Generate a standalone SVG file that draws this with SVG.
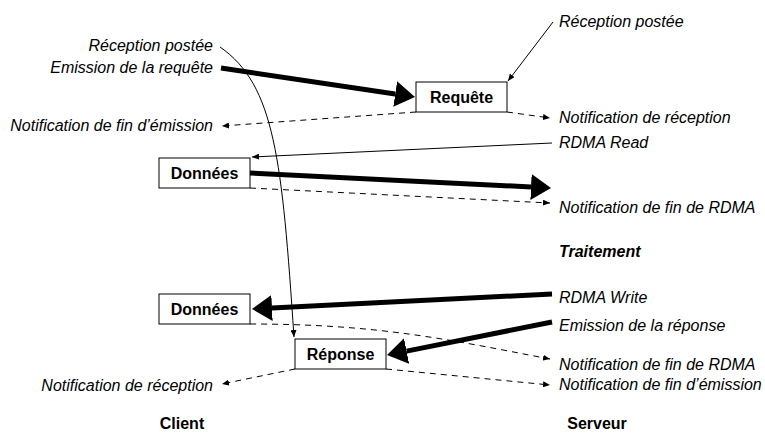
<svg xmlns="http://www.w3.org/2000/svg" width="765" height="433" viewBox="0 0 765 433">
<style>
.box{fill:#fff;stroke:#000;stroke-width:1}
.bt{font-family:"Liberation Sans",Arial,sans-serif;font-size:16px;font-weight:bold;text-anchor:middle;fill:#000}
.it{font-family:"Liberation Sans",Arial,sans-serif;font-size:16px;font-style:italic;fill:#000}
.l{text-anchor:end}
.ti{font-weight:bold}
.hd{font-family:"Liberation Sans",Arial,sans-serif;font-size:16px;font-weight:bold;text-anchor:middle;fill:#000}
.thick{fill:none;stroke:#000;stroke-width:5;marker-end:url(#big)}
.thin{fill:none;stroke:#000;stroke-width:1;marker-end:url(#small)}
.dash{fill:none;stroke:#000;stroke-width:1;stroke-dasharray:6 5;marker-end:url(#small)}
</style>
<defs>
<marker id="big" viewBox="0 0 4 5.2" refX="0" refY="2.6" markerWidth="4" markerHeight="5.2" orient="auto" markerUnits="strokeWidth">
<path d="M0,0 L4,2.6 L0,5.2 z" fill="#000"/>
</marker>
<marker id="small" viewBox="0 0 7 6" refX="7" refY="3" markerWidth="7" markerHeight="6" orient="auto" markerUnits="userSpaceOnUse">
<path d="M0,0 L7,3 L0,6 z" fill="#000"/>
</marker>
</defs>
<rect width="765" height="433" fill="#fff"/>
<g id="connectors">
<path class="thin" d="M220,47 C275,85 282,160 294,337"/>
<path class="thick" d="M221,68 L395.2,94"/>
<path class="thin" d="M553,22 L508,81"/>
<path class="dash" d="M416,112 L222,126"/>
<path class="dash" d="M507,112 L550,118"/>
<path class="thin" d="M552,143 L252,157"/>
<path class="thick" d="M250,173 L531,187"/>
<path class="dash" d="M250,188 L550,203"/>
<path class="thick" d="M552,294 L272,308"/>
<path class="thick" d="M552,322 L406.6,351.1"/>
<path class="dash" d="M250,324 C380,324 450,340 550,359"/>
<path class="dash" d="M386,369 L550,385"/>
<path class="dash" d="M295,369 L222,384"/>
</g>
<g id="n-requete"><rect class="box" x="416" y="82" width="91" height="30"/><text class="bt" x="461.5" y="103">Requête</text></g>
<g id="n-donnees1"><rect class="box" x="159" y="158" width="91" height="30"/><text class="bt" x="204.5" y="179">Données</text></g>
<g id="n-donnees2"><rect class="box" x="159" y="294" width="91" height="30"/><text class="bt" x="204.5" y="315">Données</text></g>
<g id="n-reponse"><rect class="box" x="295" y="339" width="91" height="30"/><text class="bt" x="340.5" y="360">Réponse</text></g>
<g id="labels">
<text class="it l" x="213" y="51">Réception postée</text>
<text class="it l" x="213" y="73">Emission de la requête</text>
<text class="it l" x="213" y="131">Notification de fin d’émission</text>
<text class="it l" x="213" y="391">Notification de réception</text>
<text class="it" x="559" y="27">Réception postée</text>
<text class="it" x="559" y="123">Notification de réception</text>
<text class="it" x="559" y="148">RDMA Read</text>
<text class="it" x="559" y="213">Notification de fin de RDMA</text>
<text class="it ti" x="559" y="257">Traitement</text>
<text class="it" x="559" y="303">RDMA Write</text>
<text class="it" x="559" y="331">Emission de la réponse</text>
<text class="it" x="559" y="370">Notification de fin de RDMA</text>
<text class="it" x="559" y="390">Notification de fin d’émission</text>
<text class="hd" x="182" y="429">Client</text>
<text class="hd" x="597" y="429">Serveur</text>
</g>
</svg>
